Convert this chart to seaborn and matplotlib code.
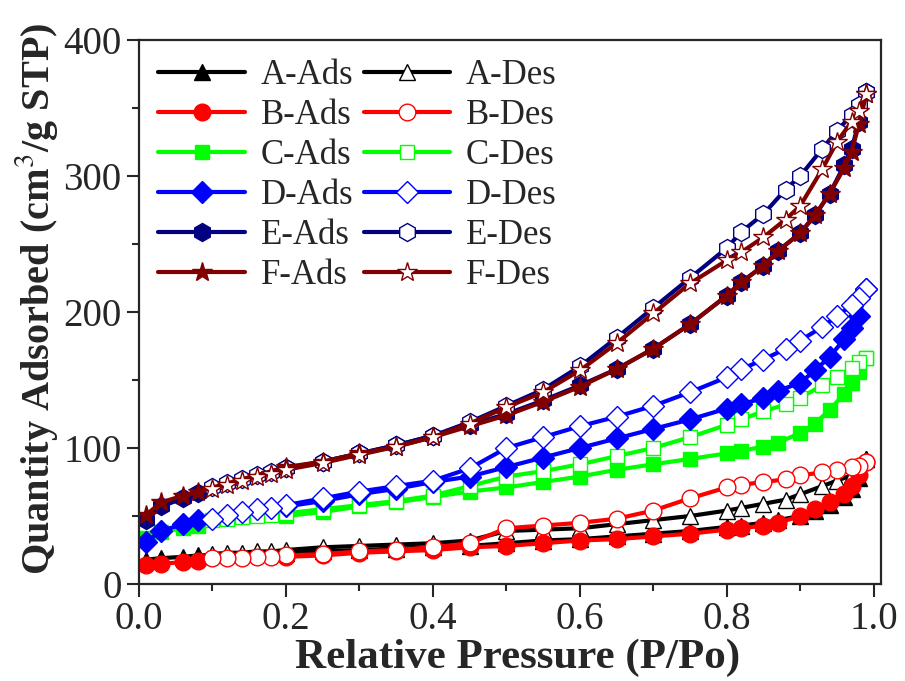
import matplotlib
matplotlib.use("Agg")
import matplotlib.pyplot as plt
import seaborn as sns
import pandas as pd

# relative pressure points, adsorption and desorption branches
p_ads = [0.01, 0.03, 0.06, 0.08, 0.2, 0.25, 0.3, 0.35, 0.4, 0.45, 0.5, 0.55, 0.6,
         0.65, 0.7, 0.75, 0.8, 0.82, 0.85, 0.87, 0.9, 0.92, 0.94, 0.96, 0.97, 0.98, 0.99]
p_des = [0.99, 0.98, 0.97, 0.95, 0.93, 0.9, 0.88, 0.85, 0.82, 0.8, 0.75, 0.7, 0.65,
         0.6, 0.55, 0.5, 0.45, 0.4, 0.35, 0.3, 0.25, 0.2, 0.18, 0.16, 0.14, 0.12, 0.1]

a_ads = [18, 19, 20, 21, 23, 24, 25, 26, 27, 28, 30, 32, 33, 35, 37, 39, 42, 43, 45,
         47, 50, 54, 58, 64, 70, 78, 92]
a_des = [92, 86, 80, 76, 72, 66, 62, 59, 56, 54, 50, 47, 44, 41, 40, 39, 32, 30, 29,
         28, 27, 25, 24, 24, 23, 23, 22]
b_ads = [14, 15, 16, 17, 20, 21, 23, 24, 25, 27, 28, 30, 32, 33, 35, 37, 40, 41, 43,
         45, 50, 55, 60, 66, 72, 80, 90]
b_des = [90, 87, 86, 84, 82, 80, 77, 75, 73, 71, 63, 54, 48, 45, 43, 41, 30, 27, 25,
         24, 22, 21, 20, 20, 19, 19, 19]
c_ads = [34, 38, 41, 43, 50, 53, 57, 60, 64, 68, 71, 75, 79, 84, 88, 92, 96, 98, 101,
         104, 111, 118, 128, 140, 148, 156, 166]
c_des = [166, 163, 159, 152, 146, 137, 132, 127, 121, 117, 108, 100, 94, 88, 83, 79,
         72, 65, 61, 58, 55, 52, 51, 50, 49, 48, 47]
d_ads = [31, 39, 44, 47, 57, 61, 66, 70, 75, 79, 86, 93, 100, 107, 114, 121, 129, 132,
         137, 142, 148, 157, 167, 180, 188, 197, 217]
d_des = [217, 210, 205, 197, 189, 179, 173, 165, 158, 152, 141, 131, 123, 116, 108,
         100, 85, 76, 72, 68, 63, 58, 56, 55, 53, 51, 48]
e_ads = [47, 57, 63, 67, 85, 90, 96, 102, 109, 117, 125, 135, 146, 158, 173, 191, 212,
         222, 234, 245, 258, 271, 287, 308, 320, 340, 362]
e_des = [362, 352, 345, 333, 320, 300, 290, 272, 259, 247, 225, 203, 181, 160, 143,
         131, 119, 109, 102, 96, 90, 85, 82, 80, 77, 74, 71]
f_ads = [51, 60, 65, 68, 86, 90, 96, 101, 108, 116, 124, 134, 145, 158, 173, 191, 212,
         222, 234, 245, 258, 271, 287, 306, 318, 338, 360]
f_des = [360, 348, 340, 325, 305, 278, 268, 255, 244, 238, 221, 199, 177, 157, 141,
         130, 118, 108, 101, 95, 89, 84, 81, 79, 76, 73, 70]

samples = ["A", "B", "C", "D", "E", "F"]
ads_vals = [a_ads, b_ads, c_ads, d_ads, e_ads, f_ads]
des_vals = [a_des, b_des, c_des, d_des, e_des, f_des]
colors = ["#000000", "#ff0000", "#00ff00", "#0000ff", "#000080", "#800000"]
markers = ["^", "o", "s", "D", "h", "*"]
msizes = [12, 12, 10, 11, 13, 15]

sns.set_style("ticks")
plt.rcParams["font.family"] = ["Liberation Serif", "DejaVu Serif"]
plt.rcParams["mathtext.fontset"] = "stix"

fig, ax = plt.subplots(figsize=(9.05, 6.81), dpi=100)
fig.subplots_adjust(left=0.1536, right=0.9735, bottom=0.1424, top=0.9413)

for s, ya, yd, c, m, ms in zip(samples, ads_vals, des_vals, colors, markers, msizes):
    df_a = pd.DataFrame({"P": p_ads, "Q": ya})
    df_d = pd.DataFrame({"P": p_des, "Q": yd})
    sns.lineplot(data=df_a, x="P", y="Q", ax=ax, color=c, lw=3, marker=m, ms=ms,
                 mfc=c, mec=c, mew=1, label=s + "-Ads", sort=False)
    sns.lineplot(data=df_d, x="P", y="Q", ax=ax, color=c, lw=3, marker=m, ms=ms,
                 mfc="white", mec=c, mew=1, label=s + "-Des", sort=False)

ax.set_xlim(0, 1.01)
ax.set_ylim(0, 400)
ax.set_xticks([0.0, 0.2, 0.4, 0.6, 0.8, 1.0])
ax.set_xticklabels(["0.0", "0.2", "0.4", "0.6", "0.8", "1.0"])
ax.set_yticks([0, 100, 200, 300, 400])
ax.set_xticks([0.1, 0.3, 0.5, 0.7, 0.9], minor=True)
ax.set_yticks([50, 150, 250, 350], minor=True)
ax.tick_params(which="major", direction="out", length=9, width=1.5, labelsize=28,
               top=False, right=False)
ax.tick_params(which="minor", direction="out", length=5, width=1.5,
               top=False, right=False)
for sp in ax.spines.values():
    sp.set_linewidth(1.6)
    sp.set_visible(True)

ax.set_xlabel("Relative Pressure (P/Po)", fontsize=31, fontweight="bold")
ax.set_ylabel("Quantity Adsorbed (cm$^3$/g STP)", fontsize=29, fontweight="bold")
ax.xaxis.set_label_coords(0.51, -0.1)
ax.yaxis.set_label_coords(-0.107, 0.525)

handles, labels = ax.get_legend_handles_labels()
order = [0, 2, 4, 6, 8, 10, 1, 3, 5, 7, 9, 11]
ax.legend([handles[i] for i in order], [labels[i] for i in order], ncol=2,
          loc="upper left", bbox_to_anchor=(0.0, 1.0), frameon=False,
          fontsize=25, handlelength=2.5, handletextpad=0.45, columnspacing=0.3,
          labelspacing=0.2, borderaxespad=0.25, borderpad=0.3)

plt.savefig("out.png", dpi=100)
